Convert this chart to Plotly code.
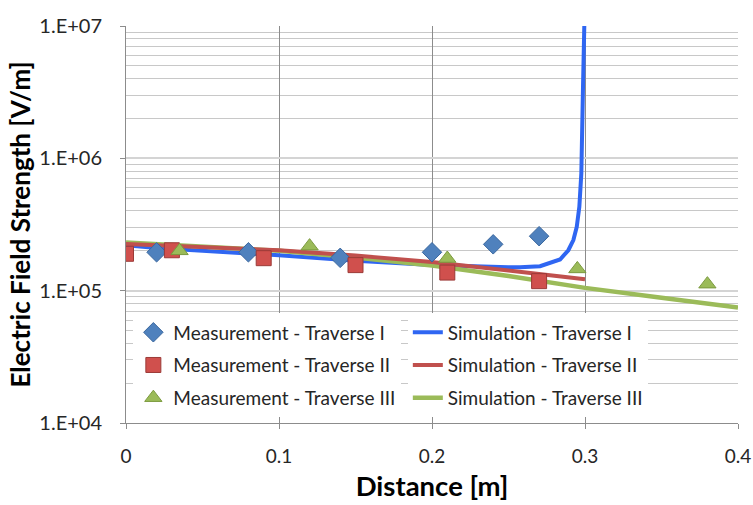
import plotly.graph_objects as go

# Measurement data
meas1_x = [0.02, 0.08, 0.14, 0.20, 0.24, 0.27]
meas1_y = [1.95e5, 1.95e5, 1.77e5, 1.95e5, 2.24e5, 2.58e5]
meas2_x = [0.0, 0.03, 0.09, 0.15, 0.21, 0.27]
meas2_y = [1.9e5, 2.02e5, 1.76e5, 1.56e5, 1.37e5, 1.18e5]
meas3_x = [0.035, 0.12, 0.21, 0.295, 0.38]
meas3_y = [2.0e5, 2.17e5, 1.75e5, 1.46e5, 1.12e5]

# Simulation data
sim1_x = [0.0, 0.02, 0.05, 0.10, 0.15, 0.20, 0.25, 0.2575, 0.2706, 0.2771, 0.2837, 0.2891, 0.2924,
          0.2946, 0.2963, 0.2976, 0.2980, 0.2985, 0.2987, 0.29954, 0.2998]
sim1_y = [2.2e5, 2.1e5, 2.0e5, 1.85e5, 1.68e5, 1.56e5, 1.50e5, 1.50e5, 1.53e5, 1.62e5, 1.72e5, 2.02e5, 2.41e5,
          3.03e5, 4.3e5, 7.7e5, 1.22e6, 1.37e6, 3.47e6, 1.0e7, 1.3e7]
sim2_x = [0.0, 0.05, 0.10, 0.15, 0.20, 0.25, 0.30]
sim2_y = [2.25e5, 2.15e5, 2.02e5, 1.84e5, 1.65e5, 1.42e5, 1.22e5]
sim3_x = [0.0, 0.05, 0.10, 0.15, 0.20, 0.25, 0.30, 0.35, 0.40]
sim3_y = [2.31e5, 2.15e5, 2.0e5, 1.78e5, 1.55e5, 1.29e5, 1.05e5, 8.85e4, 7.45e4]

y_tickvals = [1e4, 1e5, 1e6, 1e7]
y_ticktext = ["1.E+04", "1.E+05", "1.E+06", "1.E+07"]
x_tickvals = [0, 0.1, 0.2, 0.3, 0.4]
x_ticktext = ["0", "0.1", "0.2", "0.3", "0.4"]

FONT = "Lato"
fig = go.Figure()

# lines first
fig.add_trace(go.Scatter(x=sim1_x, y=sim1_y, mode="lines", name="Simulation - Traverse I",
                         line=dict(color="#2f66f2", width=4), legend="legend2", legendgroup="s1", legendrank=1))
fig.add_trace(go.Scatter(x=sim3_x, y=sim3_y, mode="lines", name="Simulation - Traverse III",
                         line=dict(color="#9bbb59", width=4.5), legend="legend2", legendgroup="s3", legendrank=3))
fig.add_trace(go.Scatter(x=sim2_x, y=sim2_y, mode="lines", name="Simulation - Traverse II",
                         line=dict(color="#c0504d", width=4), legend="legend2", legendgroup="s2", legendrank=2))

fig.add_trace(go.Scatter(x=meas1_x, y=meas1_y, mode="markers", name="Measurement - Traverse I",
                         marker=dict(symbol="diamond", size=15, color="#4f81bd", line=dict(color="#3a679e", width=1)),
                         legend="legend", legendgroup="m1", legendrank=1))
fig.add_trace(go.Scatter(x=meas2_x, y=meas2_y, mode="markers", name="Measurement - Traverse II",
                         marker=dict(symbol="square", size=15, color="#d0504d", line=dict(color="#9b3a37", width=1)),
                         legend="legend", legendgroup="m2", legendrank=2))
fig.add_trace(go.Scatter(x=meas3_x, y=meas3_y, mode="markers", name="Measurement - Traverse III",
                         marker=dict(symbol="triangle-up", size=15, color="#9bbb59", line=dict(color="#7b9a3e", width=1)),
                         legend="legend", legendgroup="m3", legendrank=3))

legend_common = dict(bgcolor="white", font=dict(family=FONT, size=19, color="#262626"),
                     tracegroupgap=5, yanchor="top", xanchor="left", orientation="v")

fig.update_layout(
    width=753, height=505,
    margin=dict(l=126, r=15, t=26, b=82),
    paper_bgcolor="white", plot_bgcolor="white",
    font=dict(family=FONT, color="#262626"),
    legend=dict(x=0.012, y=0.276, **legend_common),
    legend2=dict(x=0.4605, y=0.276, **legend_common),
    xaxis=dict(range=[0, 0.4], tickvals=x_tickvals, ticktext=x_ticktext, automargin=False,
               showgrid=True, gridcolor="#8c8c8c", gridwidth=1,
               showline=True, linecolor="#8c8c8c", linewidth=1,
               ticks="outside", ticklen=5, tickcolor="#8c8c8c", ticklabelstandoff=11,
               tickfont=dict(family=FONT, size=19, color="#262626"),
               title=dict(text="<b>Distance [m]</b>", font=dict(family=FONT, size=27.5, color="black"), standoff=10),
               zeroline=False),
    yaxis=dict(type="log", range=[4, 7], tickvals=y_tickvals, ticktext=y_ticktext, automargin=False,
               showgrid=True, gridcolor="#d4d4d4", gridwidth=1.5,
               minor=dict(tickmode="array",
                          tickvals=[m * 10 ** e for e in (4, 5, 6) for m in range(2, 10)],
                          showgrid=True, gridcolor="#c8c8c8", gridwidth=1, ticklen=0),
               showline=True, linecolor="#8c8c8c", linewidth=1,
               ticks="outside", ticklen=5, tickcolor="#8c8c8c", ticklabelstandoff=14,
               tickfont=dict(family=FONT, size=20, color="#262626"),
               title=dict(text="<b>Electric Field Strength [V/m]</b>", font=dict(family=FONT, size=26, color="black"), standoff=1),
               zeroline=False),
    showlegend=True,
)

fig.write_html("out.html")
